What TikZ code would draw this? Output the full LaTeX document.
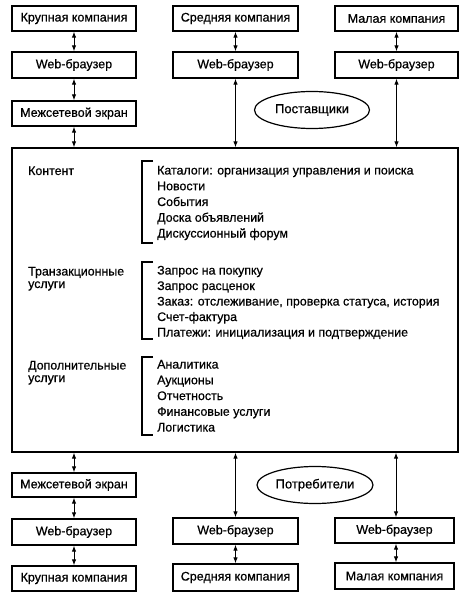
\documentclass[tikz,border=0pt]{standalone}
\usepackage{fontspec}
\setmainfont{Liberation Sans}[UprightFeatures={FakeBold=0.6}]
\usetikzlibrary{arrows.meta,shapes.geometric}
\begin{document}
\begin{tikzpicture}[x=1pt,y=-1pt,
  box/.style={draw,line width=1.3pt,minimum height=25pt,inner sep=0pt,font=\fontsize{12.5}{14}\selectfont},
  oval/.style={draw,ellipse,line width=1.2pt,inner sep=0pt,font=\fontsize{13}{15}\selectfont},
  conn/.style={line width=1pt,{Latex[length=6pt,width=4.5pt]}-{Latex[length=6pt,width=4.5pt]}},
  lbl/.style={anchor=base west,inner sep=0pt,font=\fontsize{12.4}{14}\selectfont},
  brk/.style={line width=1.3pt}]
\useasboundingbox (0,0) rectangle (472,601);
% top row
\node[box,minimum width=124pt] (k1) at (74,18.5) {Крупная компания};
\node[box,minimum width=124pt,minimum height=26pt] (wb1) at (74,65) {Web-браузер};
\node[box,minimum width=124pt] (fw1) at (74,113.5) {Межсетевой экран};
\node[box,minimum width=125pt] (m1) at (235.5,18.5) {Средняя компания};
\node[box,minimum width=125pt,minimum height=26pt] (wb2) at (235.5,65) {Web-браузер};
\node[box,minimum width=123pt] (s1) at (396.5,18.5) {Малая компания};
\node[box,minimum width=123pt,minimum height=26pt] (wb3) at (396.5,65) {Web-браузер};
\node[oval,minimum width=115pt,minimum height=37pt] (sup) at (312,110) {Поставщики};
% main box
\node[draw,line width=1.3pt,minimum width=446pt,minimum height=304pt,inner sep=0pt] (main) at (235,300) {};
% bottom
\node[box,minimum width=124pt,minimum height=24pt] (fw2) at (74,485) {Межсетевой экран};
\node[box,minimum width=124pt,minimum height=26pt] (wb4) at (74,532) {Web-браузер};
\node[box,minimum width=124pt] (k2) at (74,578.5) {Крупная компания};
\node[box,minimum width=125pt,minimum height=26pt] (wb5) at (235.5,531) {Web-браузер};
\node[box,minimum width=125pt,minimum height=27pt] (m2) at (235.5,577.5) {Средняя компания};
\node[box,minimum width=119pt] (wb6) at (394.5,530.5) {Web-браузер};
\node[box,minimum width=119pt,minimum height=26pt] (s2) at (394.5,576) {Малая компания};
\node[oval,minimum width=116pt,minimum height=37pt] (cons) at (315,485) {Потребители};
% connectors top
\draw[conn] (k1) -- (wb1);
\draw[conn] (wb1) -- (fw1);
\draw[conn] (fw1.south) -- (fw1.south |- main.north);
\draw[conn] (m1) -- (wb2);
\draw[conn] (wb2.south) -- (wb2.south |- main.north);
\draw[conn] (s1) -- (wb3);
\draw[conn] (wb3.south) -- (wb3.south |- main.north);
% connectors bottom
\draw[conn] (fw2.north |- main.south) -- (fw2.north);
\draw[conn] (fw2) -- (wb4);
\draw[conn] (wb4) -- (k2);
\draw[conn] (wb5.north |- main.south) -- (wb5.north);
\draw[conn] (wb5) -- (m2);
\coordinate (r1) at ([xshift=1.5pt]wb6.north);
\draw[conn] (r1 |- main.south) -- (r1);
\draw[conn] ([xshift=1.5pt]wb6.south) -- ([xshift=1.5pt]s2.north);
% content
\node[lbl] (c0) at (28,175) {Контент};
\draw[brk] (153,161) -- (142,161) -- (142,243) -- (153,243);
\foreach \t [count=\i] in {Каталоги: организация управления и поиска,Новости,События,Доска объявлений,Дискуссионный форум}
  \node[lbl] (ci\i) at (157,174.5+15.75*\i-15.75) {\t};
\node[lbl] (t0) at (28,275.5) {Транзакционные};
\node[lbl] (t0b) at (28,288) {услуги};
\draw[brk] (153,262) -- (142,262) -- (142,339) -- (153,339);
\foreach \t [count=\i] in {Запрос на покупку,Запрос расценок,{Заказ: отслеживание, проверка статуса, история},Счет-фактура,Платежи: инициализация и подтверждение}
  \node[lbl] (ti\i) at (157,274.5+15.5*\i-15.5) {\t};
\node[lbl] (d0) at (28,369.5) {Дополнительные};
\node[lbl] (d0b) at (28,382) {услуги};
\draw[brk] (153,357) -- (142,357) -- (142,435) -- (153,435);
\foreach \t [count=\i] in {Аналитика,Аукционы,Отчетность,Финансовые услуги,Логистика}
  \node[lbl] (di\i) at (157,368.5+15.75*\i-15.75) {\t};
\end{tikzpicture}
\end{document}
